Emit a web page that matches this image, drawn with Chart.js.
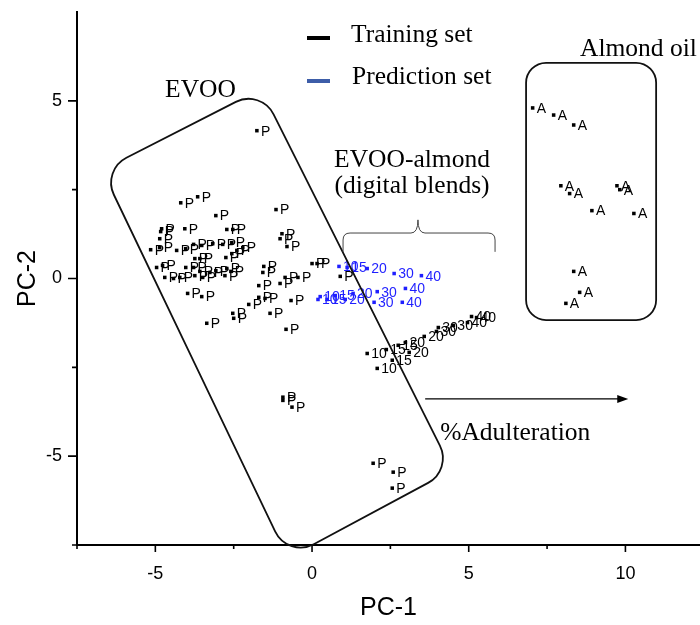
<!DOCTYPE html>
<html>
<head>
<meta charset="utf-8">
<script src="https://cdn.jsdelivr.net/npm/chart.js@4/dist/chart.umd.min.js"></script>
<style>
  html, body { margin: 0; padding: 0; background: #fff; overflow: hidden; }
  #wrap { width: 700px; height: 625px; }
</style>
</head>
<body>
<div id="wrap"><canvas id="pca" width="700" height="625"></canvas></div>
<script>
// PCA scores: EVOO samples (P)
const evooX = [-1.76,-4.19,-3.65,-3.07,-1.15,-4.80,-4.83,-4.06,-2.72,-2.53,-4.86,-5.15,-4.86,-4.32,-4.03,-3.78,-3.52,-3.17,-2.85,-2.56,-2.40,-2.21,-2.75,-2.56,-3.74,-3.58,-4.96,-4.77,-4.03,-3.78,-3.58,-3.26,-3.07,-2.72,-2.59,-4.70,-4.42,-4.22,-3.74,-3.49,-2.78,-3.97,-3.52,-3.36,-2.53,-2.50,-2.02,-1.70,-1.54,-1.57,-1.70,-1.50,-1.34,-0.86,-0.67,-0.45,-0.83,-0.96,-1.02,-0.80,0.00,0.16,0.90,-1.02,-0.93,-0.93,-0.64,1.95,2.59,2.56];
const evooY = [4.16,2.13,2.30,1.77,1.94,1.40,1.32,1.40,1.38,1.38,1.12,0.81,0.87,0.79,0.84,0.96,0.93,0.98,0.96,1.01,0.79,0.87,0.59,0.70,0.56,0.56,0.31,0.37,0.31,0.31,0.20,0.17,0.22,0.28,0.20,0.03,0.00,0.03,0.08,0.03,0.08,-0.42,-0.51,-1.26,-0.98,-1.12,-0.73,-0.20,0.34,0.17,-0.53,-0.56,-0.98,0.03,-0.62,0.03,-1.43,1.26,1.12,0.90,0.42,0.42,0.06,-0.14,-3.34,-3.43,-3.62,-5.20,-5.45,-5.90];

// Almond oil samples (A)
const almondX = [7.04,7.71,8.35,7.94,8.22,8.93,9.73,9.82,10.27,8.35,8.54,8.10];
const almondY = [4.80,4.60,4.32,2.61,2.39,1.91,2.61,2.50,1.83,0.20,-0.39,-0.70];

// Digital blends, training set (% adulteration)
const trainBlendX = [1.76,2.08,2.37,2.56,2.75,3.10,2.98,3.58,3.97,4.03,4.51,4.96,5.09,5.25];
const trainBlendY = [-2.11,-2.53,-2.00,-2.30,-1.88,-2.08,-1.80,-1.63,-1.49,-1.38,-1.32,-1.24,-1.07,-1.10];
const trainBlendPct = [10,10,15,15,15,20,20,20,30,30,30,40,40,40];

// Digital blends, prediction set (% adulteration)
const predBlendX = [0.86,1.12,1.76,2.62,3.49, 0.26,0.74,1.31,2.08,2.98, 0.19,0.48,1.06,1.98,2.88];
const predBlendY = [0.34,0.31,0.28,0.14,0.08, -0.51,-0.48,-0.42,-0.37,-0.28, -0.59,-0.59,-0.59,-0.67,-0.67];
const predBlendPct = [10,15,20,30,40, 10,15,20,30,40, 10,15,20,30,40];

// Axis ticks
const xTickValues = [-7.5,-5,-2.5,0,2.5,5,7.5,10];
const yTickValues = [-7.5,-5,-2.5,0,2.5,5];
const majorStep = 5;

const SANS = "'Liberation Sans', Arial, sans-serif";
const SERIF = "'Liberation Serif', 'Times New Roman', serif";
const BLUE = '#1f1fff';

const toPoints = (xs, ys) => xs.map((x, i) => ({ x, y: ys[i] }));

// Annotation geometry in PC units
const evooBox = { corners: [[-6.70, 3.05], [-1.63, 5.33], [4.47, -5.39], [-0.77, -7.87]], radius: 28 };
const almondBox = { x0: 6.83, x1: 10.98, y0: 6.07, y1: -1.17, radius: 20 };
const brace = { left: 0.99, right: 5.84, mid: 3.38, bar: 1.28, ends: 0.75, peak: 1.65 };
const arrow = { x0: 3.61, x1: 10.09, y: -3.39 };
const notes = [
  { text: 'EVOO', x: -4.69, y: 5.11, align: 'left' },
  { text: 'Almond oil', x: 8.55, y: 6.26, align: 'left' },
  { text: 'EVOO-almond', x: 3.19, y: 3.14, align: 'center' },
  { text: '(digital blends)', x: 3.19, y: 2.41, align: 'center' },
  { text: '%Adulteration', x: 4.09, y: -4.55, align: 'left' }
];

const pointLabels = {
  id: 'pointLabels',
  afterDatasetsDraw(chart) {
    const ctx = chart.ctx;
    ctx.save();
    ctx.font = '14px ' + SANS;
    ctx.textBaseline = 'middle';
    ctx.textAlign = 'left';
    chart.data.datasets.forEach((ds, di) => {
      const meta = chart.getDatasetMeta(di);
      ctx.fillStyle = ds.labelColor;
      meta.data.forEach((el, i) => {
        ctx.fillText(String(ds.pointText[i]), el.x + 4, el.y + 1);
      });
    });
    ctx.restore();
  }
};

const axisTicks = {
  id: 'axisTicks',
  afterDraw(chart) {
    const ctx = chart.ctx;
    const xs = chart.scales.x, ys = chart.scales.y;
    const area = chart.chartArea;
    ctx.save();
    ctx.strokeStyle = '#000';
    ctx.lineWidth = 1.6;
    ctx.beginPath();
    xs.ticks.forEach(t => {
      const px = xs.getPixelForValue(t.value);
      const len = (t.value % majorStep === 0) ? 7 : 4;
      ctx.moveTo(px, area.bottom);
      ctx.lineTo(px, area.bottom + len);
    });
    ys.ticks.forEach(t => {
      const py = ys.getPixelForValue(t.value);
      const len = (t.value % majorStep === 0) ? 9 : 5;
      ctx.moveTo(area.left, py);
      ctx.lineTo(area.left - len, py);
    });
    ctx.stroke();
    ctx.restore();
  }
};

function roundedPolygon(ctx, pts, r) {
  const n = pts.length;
  const last = pts[n - 1], first = pts[0];
  ctx.beginPath();
  ctx.moveTo((last[0] + first[0]) / 2, (last[1] + first[1]) / 2);
  for (let i = 0; i < n; i++) {
    const p = pts[i], q = pts[(i + 1) % n];
    ctx.arcTo(p[0], p[1], q[0], q[1], r);
  }
  ctx.closePath();
}

const annotations = {
  id: 'annotations',
  afterDraw(chart) {
    const ctx = chart.ctx;
    const xs = chart.scales.x, ys = chart.scales.y;
    const px = v => xs.getPixelForValue(v);
    const py = v => ys.getPixelForValue(v);
    ctx.save();

    // EVOO region
    ctx.strokeStyle = '#111';
    ctx.lineWidth = 1.8;
    roundedPolygon(ctx, evooBox.corners.map(c => [px(c[0]), py(c[1])]), evooBox.radius);
    ctx.stroke();

    // Almond oil region
    const ax0 = px(almondBox.x0), ax1 = px(almondBox.x1), ay0 = py(almondBox.y0), ay1 = py(almondBox.y1);
    roundedPolygon(ctx, [[ax0, ay0], [ax1, ay0], [ax1, ay1], [ax0, ay1]], almondBox.radius);
    ctx.stroke();

    // Brace over digital blends
    const bl = px(brace.left), br = px(brace.right), bm = px(brace.mid);
    const bb = py(brace.bar), be = py(brace.ends), bp = py(brace.peak);
    const r = 7;
    ctx.strokeStyle = '#444';
    ctx.lineWidth = 1;
    ctx.beginPath();
    ctx.moveTo(bl, be);
    ctx.lineTo(bl, bb + r);
    ctx.quadraticCurveTo(bl, bb, bl + r, bb);
    ctx.lineTo(bm - r, bb);
    ctx.quadraticCurveTo(bm, bb, bm, bp);
    ctx.quadraticCurveTo(bm, bb, bm + r, bb);
    ctx.lineTo(br - r, bb);
    ctx.quadraticCurveTo(br, bb, br, bb + r);
    ctx.lineTo(br, be);
    ctx.stroke();

    // Adulteration arrow
    const x0 = px(arrow.x0), x1 = px(arrow.x1), ay = py(arrow.y);
    ctx.strokeStyle = '#000';
    ctx.fillStyle = '#000';
    ctx.lineWidth = 1.2;
    ctx.beginPath();
    ctx.moveTo(x0, ay);
    ctx.lineTo(x1 - 8, ay);
    ctx.stroke();
    ctx.beginPath();
    ctx.moveTo(x1, ay);
    ctx.lineTo(x1 - 11, ay - 4);
    ctx.lineTo(x1 - 11, ay + 4);
    ctx.closePath();
    ctx.fill();

    // Text notes
    ctx.font = '25.5px ' + SERIF;
    ctx.textBaseline = 'alphabetic';
    ctx.fillStyle = '#000';
    notes.forEach(n => {
      ctx.textAlign = n.align;
      ctx.fillText(n.text, px(n.x), py(n.y));
    });

    // Legend
    ctx.textAlign = 'left';
    ctx.fillStyle = '#000';
    ctx.fillRect(307, 36, 23, 4);
    ctx.fillStyle = '#3d5da8';
    ctx.fillRect(307, 79, 23, 4);
    ctx.fillStyle = '#000';
    ctx.fillText('Training set', 351, 42);
    ctx.fillText('Prediction set', 352, 84);

    ctx.restore();
  }
};

const markerBase = { pointStyle: 'rect', pointRadius: 2.5, pointBorderWidth: 0, pointHoverRadius: 2.5, showLine: false };

new Chart(document.getElementById('pca'), {
  type: 'scatter',
  data: {
    datasets: [
      Object.assign({ label: 'EVOO', data: toPoints(evooX, evooY), backgroundColor: '#000', pointBackgroundColor: '#000', labelColor: '#000', pointText: evooX.map(() => 'P') }, markerBase),
      Object.assign({ label: 'Almond oil', data: toPoints(almondX, almondY), backgroundColor: '#000', pointBackgroundColor: '#000', labelColor: '#000', pointText: almondX.map(() => 'A') }, markerBase),
      Object.assign({ label: 'Training set', data: toPoints(trainBlendX, trainBlendY), backgroundColor: '#000', pointBackgroundColor: '#000', labelColor: '#000', pointText: trainBlendPct }, markerBase),
      Object.assign({ label: 'Prediction set', data: toPoints(predBlendX, predBlendY), backgroundColor: BLUE, pointBackgroundColor: BLUE, labelColor: BLUE, pointText: predBlendPct }, markerBase)
    ]
  },
  options: {
    responsive: false,
    animation: false,
    devicePixelRatio: 1,
    layout: { autoPadding: false, padding: { top: 12, right: 0, bottom: 0, left: 0 } },
    plugins: { legend: { display: false }, tooltip: { enabled: false } },
    scales: {
      x: {
        type: 'linear',
        min: -7.5,
        max: 12.38,
        afterBuildTicks: s => { s.ticks = xTickValues.map(v => ({ value: v })); },
        afterFit: s => { s.height = 80; s.paddingLeft = 0; s.paddingRight = 0; },
        grid: { display: false, drawTicks: false },
        border: { display: true, color: '#000', width: 2 },
        ticks: {
          padding: 18,
          color: '#000',
          font: { family: SANS, size: 18 },
          maxRotation: 0,
          autoSkip: false,
          callback: v => (v % majorStep === 0 ? String(v) : '')
        },
        title: { display: true, text: 'PC-1', color: '#000', font: { family: SANS, size: 25, lineHeight: 1.2 }, padding: { top: 0, bottom: 2 } }
      },
      y: {
        type: 'linear',
        min: -7.5,
        max: 7.5,
        afterBuildTicks: s => { s.ticks = yTickValues.map(v => ({ value: v })); },
        afterFit: s => { s.width = 77; s.paddingTop = 0; s.paddingBottom = 0; },
        grid: { display: false, drawTicks: false },
        border: { display: true, color: '#000', width: 2 },
        ticks: {
          padding: 15,
          color: '#000',
          font: { family: SANS, size: 18 },
          autoSkip: false,
          callback: v => (v % majorStep === 0 ? String(v) : '')
        },
        title: { display: true, text: 'PC-2', color: '#000', font: { family: SANS, size: 25, lineHeight: 1.2 }, padding: { top: 13, bottom: 0 } }
      }
    }
  },
  plugins: [pointLabels, axisTicks, annotations]
});
</script>
</body>
</html>
